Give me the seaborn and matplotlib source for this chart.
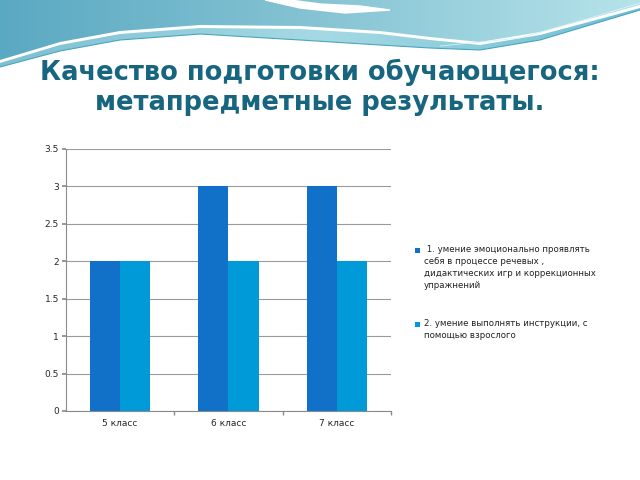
import matplotlib

matplotlib.use("Agg")
import matplotlib.pyplot as plt
import numpy as np
import pandas as pd
import seaborn as sns
from matplotlib.patches import Polygon, Rectangle

categories = ["5 класс", "6 класс", "7 класс"]
series_names = [
    " 1. умение эмоционально проявлять\nсебя в процессе речевых ,\nдидактических игр и коррекционных\nупражнений",
    "2. умение выполнять инструкции, с\nпомощью взрослого",
]
skill_emotion = [2, 3, 3]
skill_instructions = [2, 2, 2]
y_ticks = [0, 0.5, 1, 1.5, 2, 2.5, 3, 3.5]
y_tick_labels = ["0", "0.5", "1", "1.5", "2", "2.5", "3", "3.5"]

COLORS = ["#1170c8", "#009ad8"]
TITLE_COLOR = "#17657f"
W, H = 640, 480

sns.set_theme(style="white")
plt.rcParams["font.family"] = ["DejaVu Sans"]

fig = plt.figure(figsize=(6.4, 4.8), dpi=100)
fig.patch.set_facecolor("white")


def px(x, y):
    return x / W, 1 - y / H


def draw_header(fig):
    hx = fig.add_axes([0, 1 - 75 / H, 1, 75 / H])
    hx.set_xlim(0, W)
    hx.set_ylim(75, 0)
    hx.axis("off")
    xs = np.array([0, 60, 120, 200, 300, 380, 430, 480, 540, 600, 640])
    upper = np.array([60, 42, 31, 25, 26, 31, 37, 42, 32, 16, 5])
    lower = np.array([67, 51, 40, 34, 40, 45, 48, 50, 40, 22, 10])
    grad = np.linspace(0, 1, 256).reshape(1, -1)
    cmap_top = matplotlib.colors.LinearSegmentedColormap.from_list(
        "hdr", ["#5aa9c2", "#86c4d4", "#b6e3ea"]
    )
    top_poly = Polygon(
        list(zip(xs, upper)) + [(640, 0), (0, 0)], closed=True, facecolor="none", edgecolor="none"
    )
    hx.add_patch(top_poly)
    im = hx.imshow(grad, extent=[0, W, 75, 0], aspect="auto", cmap=cmap_top, zorder=1)
    im.set_clip_path(top_poly)
    low_poly = Polygon(
        list(zip(xs, upper + 3)) + list(zip(xs[::-1], lower[::-1])),
        closed=True, facecolor="none", edgecolor="none",
    )
    hx.add_patch(low_poly)
    cmap_low = matplotlib.colors.LinearSegmentedColormap.from_list(
        "hdr2", ["#7cc0d2", "#a6d9e4", "#6fbfd3"]
    )
    im2 = hx.imshow(grad, extent=[0, W, 75, 0], aspect="auto", cmap=cmap_low, zorder=1)
    im2.set_clip_path(low_poly)
    # white swoosh near the top
    hx.fill([265, 300, 345, 390, 360, 320, 290], [0, 8, 13, 10, 6, 4, 0], color="white", zorder=2)
    hx.plot(xs, lower, color="#4aa5bf", lw=0.8, zorder=3)
    hx.plot([440, 520, 590, 640], [46, 38, 18, 3], color="#d8f1f4", lw=0.6, zorder=3)


draw_header(fig)

fig.text(0.5, 1 - 87 / H, "Качество подготовки обучающегося:\nметапредметные результаты.",
         ha="center", va="center", fontsize=18.5, fontweight="bold", color=TITLE_COLOR,
         linespacing=1.2)

ax = fig.add_axes([66 / W, 1 - 411 / H, (391 - 66) / W, (411 - 149) / H])
df = pd.DataFrame({
    "класс": categories * 2,
    "value": skill_emotion + skill_instructions,
    "series": [series_names[0]] * 3 + [series_names[1]] * 3,
})
sns.barplot(data=df, x="класс", y="value", hue="series", palette=COLORS,
            width=0.555, saturation=1, legend=False, ax=ax, zorder=3,
            edgecolor="none", linewidth=0)

ax.set_ylim(0, 3.5)
ax.set_xlim(-0.5, 2.5)
ax.set_yticks(y_ticks)
ax.set_yticklabels(y_tick_labels)
ax.yaxis.grid(True, color="#9a9a9a", lw=0.8, zorder=0)
ax.set_axisbelow(True)
ax.set_xlabel("")
ax.set_ylabel("")
for s in ["top", "right"]:
    ax.spines[s].set_visible(False)
for s in ["left", "bottom"]:
    ax.spines[s].set_color("#8a8a8a")
    ax.spines[s].set_linewidth(0.8)
ax.tick_params(axis="y", labelsize=6.5, length=3, color="#8a8a8a", left=True, pad=2)
ax.tick_params(axis="x", labelsize=6.5, length=0, pad=6)
ax.set_xticks([0.5, 1.5, 2.5], minor=True)
ax.tick_params(axis="x", which="minor", length=3, color="#8a8a8a", bottom=True)

# legend
for (mx, my), color, label in zip([(415, 248), (415, 322)], COLORS, series_names):
    fx, fy = px(mx, my + 5)
    fig.patches.append(Rectangle((fx, fy), 5 / W, 5 / H, transform=fig.transFigure,
                                 facecolor=color, edgecolor="none", figure=fig))
    tx, ty = px(424, my - 3)
    fig.text(tx, ty, label, ha="left", va="top", fontsize=6.2, color="#222222", linespacing=1.42)

fig.savefig("out.png", dpi=100)
